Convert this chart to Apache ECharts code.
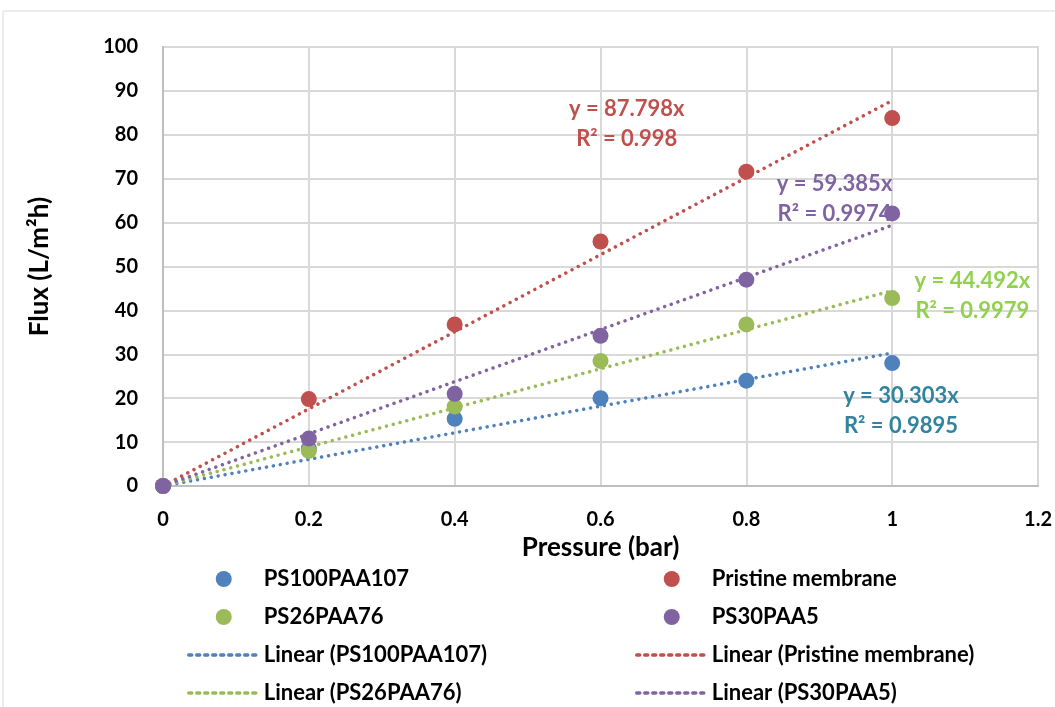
<!DOCTYPE html>
<html><head><meta charset="utf-8">
<script src="https://cdn.jsdelivr.net/npm/echarts@6/dist/echarts.min.js"></script>
<style>html,body{margin:0;padding:0;background:#fff}#c{width:1055px;height:707px}</style>
</head><body><div id="c"></div>
<script>
const pressure = [0, 0.2, 0.4, 0.6, 0.8, 1.0];
const ps100 = [0, 8.5, 15.3, 20.0, 24.0, 28.0];
const pristine = [0, 19.8, 36.8, 55.7, 71.6, 83.8];
const ps26 = [0, 8.0, 18.1, 28.5, 36.8, 42.8];
const ps30 = [0, 10.8, 21.0, 34.2, 47.0, 62.1];
const names = ['PS100PAA107', 'Pristine membrane', 'PS26PAA76', 'PS30PAA5'];
const slopes = [30.303, 87.798, 44.492, 59.385];
const r2 = ['0.9895', '0.998', '0.9979', '0.9974'];
const trendX = [0, 1];
const xTicks = [0, 0.2, 0.4, 0.6, 0.8, 1, 1.2];
const yTicks = [0, 10, 20, 30, 40, 50, 60, 70, 80, 90, 100];
const labelPos = [[1.012, 17.1], [0.636, 82.5], [1.110, 43.3], [0.921, 65.4]];

const colors = ['#4F81BD', '#C0504D', '#9BBB59', '#8064A2'];
const labelColors = ['#31849B', '#C0504D', '#92D050', '#8064A2'];
const values = [ps100, pristine, ps26, ps30];
const FONT = 'Lato';

const series = [];
names.forEach((n, i) => {
  series.push({
    name: 'Linear (' + n + ')', type: 'line', symbol: 'none', z: 2,
    data: trendX.map(x => [x, slopes[i] * x]),
    lineStyle: { color: colors[i], width: 3.5, type: [0.01, 7], cap: 'round' },
    itemStyle: { color: colors[i] },
    markPoint: {
      symbol: 'circle', symbolSize: 0, silent: true,
      data: [{ coord: labelPos[i] }],
      label: {
        show: true, position: 'inside', formatter: 'y = ' + slopes[i] + 'x\nR² = ' + r2[i],
        color: labelColors[i], fontFamily: FONT, fontWeight: 'bold', fontSize: 22, lineHeight: 30, align: 'center'
      }
    }
  });
});
names.forEach((n, i) => {
  series.push({
    name: n, type: 'scatter', symbol: 'circle', symbolSize: 16, z: 3,
    data: pressure.map((x, k) => [x, values[i][k]]),
    itemStyle: { color: colors[i], opacity: 1 }
  });
});

const legendText = { fontFamily: FONT, fontWeight: 'bold', fontSize: 22, lineHeight: 22, color: '#000' };
const lineItem = n => ({ name: 'Linear (' + n + ')',
  itemStyle: { color: 'rgba(0,0,0,0)', borderWidth: 0 },
  lineStyle: { width: 3.5, type: [3, 5] } });
const legendCommon = { orient: 'vertical', top: 568, height: 200, padding: 0, itemGap: 16, itemWidth: 70, itemHeight: 16, textStyle: legendText };
const option = {
  animation: false,
  graphic: [{ type: 'polyline', shape: { points: [[3, 707], [3, 11], [1055, 11]] }, style: { stroke: '#d9d9d9', lineWidth: 1, fill: null } }],
  grid: { left: 163, right: 15, top: 47, bottom: 221, show: true, borderColor: '#d9d9d9', borderWidth: 2 },
  xAxis: {
    type: 'value', min: 0, max: 1.2, interval: 0.2,
    name: 'Pressure (bar)', nameLocation: 'middle', nameGap: 49,
    nameTextStyle: { fontFamily: FONT, fontWeight: 'bold', fontSize: 26, color: '#000' },
    axisLine: { show: true, lineStyle: { color: '#bfbfbf', width: 2 } },
    axisTick: { show: false },
    axisLabel: { margin: 24, fontFamily: FONT, fontWeight: 'bold', fontSize: 20, color: '#000',
      formatter: v => { const t = xTicks.find(x => Math.abs(x - v) < 1e-9); return t === undefined ? '' : String(t); } },
    splitLine: { show: true, lineStyle: { color: '#d9d9d9', width: 2 } }
  },
  yAxis: {
    type: 'value', min: 0, max: 100, interval: 10,
    name: 'Flux (L/m²h)', nameLocation: 'middle', nameGap: 110, nameRotate: 90,
    nameTextStyle: { fontFamily: FONT, fontWeight: 'bold', fontSize: 26, color: '#000' },
    axisLine: { show: true, lineStyle: { color: '#bfbfbf', width: 2 } },
    axisTick: { show: false },
    axisLabel: { margin: 25, fontFamily: FONT, fontWeight: 'bold', fontSize: 20, color: '#000',
      formatter: v => String(yTicks.find(t => t === v) ?? v) },
    splitLine: { show: true, lineStyle: { color: '#d9d9d9', width: 2 } }
  },
  legend: [
    Object.assign({ left: 187, data: [names[0], names[2], lineItem(names[0]), lineItem(names[2])] }, legendCommon),
    Object.assign({ left: 635, data: [names[1], names[3], lineItem(names[1]), lineItem(names[3])] }, legendCommon)
  ],
  series
};
const chart = echarts.init(document.getElementById('c'));
chart.setOption(option);
</script></body></html>
